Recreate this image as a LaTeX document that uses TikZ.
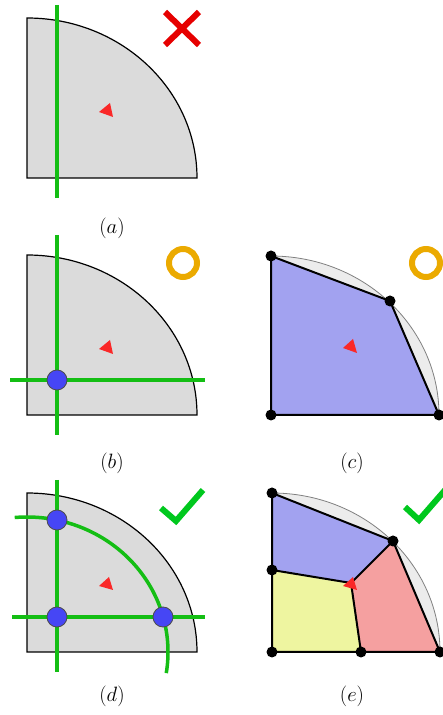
\documentclass[tikz,border=0pt]{standalone}
\begin{document}
\begin{tikzpicture}[x=1pt,y=1pt,
  domainfill/.style={fill=gray!28,draw=black,line width=1.2pt},
  lightdomain/.style={fill=gray!15,draw=gray,line width=0.8pt},
  gline/.style={draw=lgreen,line width=3.5pt},
  redtri/.style={fill=tred,draw=none},
  bluedot/.style={circle,fill=dblue,draw=black!70,line width=0.8pt,minimum size=20pt,inner sep=0pt},
  vdot/.style={circle,fill=black,minimum size=11pt,inner sep=0pt},
  edge/.style={draw=black,line width=2pt,line join=round},
  lab/.style={font=\fontsize{20}{24}\selectfont},
  symmark/.style={line width=6pt},
]
\definecolor{lgreen}{RGB}{20,190,20}
\definecolor{tred}{RGB}{250,40,40}
\definecolor{xred}{RGB}{230,0,0}
\definecolor{dblue}{RGB}{70,70,245}
\definecolor{orng}{RGB}{235,170,0}
\definecolor{cgreen}{RGB}{0,200,30}
\definecolor{pblue}{RGB}{162,162,240}
\definecolor{pyel}{RGB}{238,245,160}
\definecolor{pred}{RGB}{245,160,160}
\useasboundingbox (0,0) rectangle (443,715);
\clip (0,0) rectangle (443,715);

% ---------- (a)
\path[domainfill] (27,537) -- (27,697) arc[start angle=90,end angle=0,x radius=170pt,y radius=160pt] -- cycle;
\coordinate (a1) at (57,710); \coordinate (a2) at (57,517);
\draw[gline] (a1) -- (a2);
\fill[redtri] (99,603) -- (110,612) -- (113,598) -- cycle;
\coordinate (x1) at (165,703); \coordinate (x2) at (199,670);
\coordinate (x3) at (165,670); \coordinate (x4) at (199,703);
\draw[xred,symmark] (x1) -- (x2) (x3) -- (x4);
\node[lab] (la) at (112,487) {$(a)$};

% ---------- (b)
\path[domainfill] (27,300) -- (27,460) arc[start angle=90,end angle=0,x radius=170pt,y radius=160pt] -- cycle;
\coordinate (b1) at (57,480); \coordinate (b2) at (57,280);
\coordinate (b3) at (10,335); \coordinate (b4) at (205,335);
\draw[gline] (b1) -- (b2) (b3) -- (b4);
\node[bluedot] (bd) at (57,335) {};
\fill[redtri] (99,366) -- (110,375) -- (113,361) -- cycle;
\node[circle,draw=orng,line width=6pt,minimum size=28pt,inner sep=0pt] (bo) at (183,452) {};
\node[lab] (lb) at (112,252) {$(b)$};

% ---------- (c)
\path[lightdomain] (271,300) -- (271,459) arc[start angle=90,end angle=0,x radius=168pt,y radius=159pt] -- cycle;
\coordinate (c1) at (271,459); \coordinate (c2) at (390,414);
\coordinate (c3) at (439,300); \coordinate (c4) at (271,300);
\path[fill=pblue] (c1) -- (c2) -- (c3) -- (c4) -- cycle;
\draw[edge] (c1) -- (c2) -- (c3) -- (c4) -- cycle;
\foreach \p in {c1,c2,c3,c4} \node[vdot] at (\p) {};
\fill[redtri] (343,367) -- (353,376) -- (357,362) -- cycle;
\node[circle,draw=orng,line width=6pt,minimum size=28pt,inner sep=0pt] (co) at (426,452) {};
\node[lab] (lc) at (352,252) {$(c)$};

% ---------- (d)
\path[domainfill] (27,63) -- (27,222) arc[start angle=90,end angle=0,x radius=170pt,y radius=159pt] -- cycle;
\coordinate (d1) at (57,235); \coordinate (d2) at (57,43);
\coordinate (d3) at (12,98); \coordinate (d4) at (205,98);
\draw[gline] (d1) -- (d2) (d3) -- (d4);
\draw[gline] (27,63) ++(95:141pt and 135pt) arc[start angle=95,end angle=-9,x radius=141pt,y radius=135pt];
\node[bluedot] (dd1) at (57,195) {};
\node[bluedot] (dd2) at (57,98) {};
\node[bluedot] (dd3) at (163,98) {};
\fill[redtri] (99,129) -- (109,138) -- (113,125) -- cycle;
\coordinate (k1) at (161,207); \coordinate (k2) at (176,194); \coordinate (k3) at (203,225);
\draw[cgreen,symmark,line join=miter] (k1) -- (k2) -- (k3);
\node[lab] (ld) at (112,19) {$(d)$};

% ---------- (e)
\path[lightdomain] (272,63) -- (272,222) arc[start angle=90,end angle=0,x radius=168pt,y radius=159pt] -- cycle;
\coordinate (tl) at (272,222); \coordinate (ml) at (272,145);
\coordinate (bl) at (272,63); \coordinate (bm) at (361,63);
\coordinate (br) at (440,63); \coordinate (av) at (393,174);
\coordinate (ic) at (351,132);
\path[fill=pblue] (tl) -- (av) -- (ic) -- (ml) -- cycle;
\path[fill=pyel] (ml) -- (ic) -- (bm) -- (bl) -- cycle;
\path[fill=pred] (ic) -- (av) -- (br) -- (bm) -- cycle;
\draw[edge] (tl) -- (av) -- (br) -- (bl) -- cycle;
\draw[edge] (ml) -- (ic) -- (av) (ic) -- (bm);
\foreach \p in {tl,ml,bl,bm,br,av} \node[vdot] at (\p) {};
\fill[redtri] (343,129) -- (353,138) -- (357,125) -- cycle;
\coordinate (e1) at (405,208); \coordinate (e2) at (419,195); \coordinate (e3) at (446,226);
\draw[cgreen,symmark,line join=miter] (e1) -- (e2) -- (e3);
\node[lab] (le) at (352,19) {$(e)$};
\end{tikzpicture}
\end{document}
